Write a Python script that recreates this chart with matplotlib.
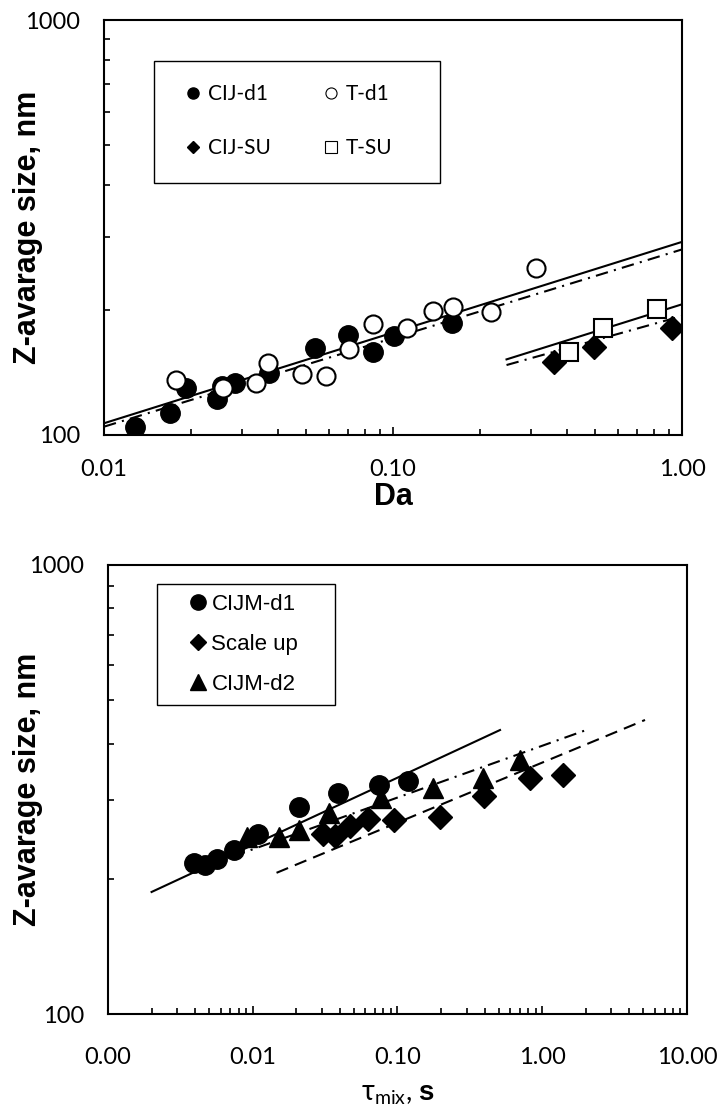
import numpy as np
import matplotlib
matplotlib.use('Agg')
import matplotlib.pyplot as plt
from matplotlib.lines import Line2D
from matplotlib.patches import Rectangle
from matplotlib.ticker import FixedLocator, NullFormatter, LogLocator

# Z-average size vs Damkohler number
cij_d1_da = [0.0128, 0.0169, 0.0192, 0.0247, 0.0256, 0.0284, 0.0373, 0.0537, 0.070, 0.0855, 0.1008, 0.160]
cij_d1_size = [104.7, 113, 129.6, 121.9, 131, 133.7, 140.8, 161.8, 174, 158.2, 173, 185.8]
t_d1_da = [0.0178, 0.0259, 0.0337, 0.0370, 0.0486, 0.0587, 0.0706, 0.0851, 0.1115, 0.137, 0.161, 0.218, 0.3125]
t_d1_size = [135.7, 129.6, 133.7, 148.9, 140.3, 138.8, 161.2, 184.8, 181.4, 199, 203.8, 198.3, 252]
cij_su_da = [0.361, 0.496, 0.921]
cij_su_size = [150.2, 163.3, 181.4]
t_su_da = [0.407, 0.534, 0.818]
t_su_size = [158.8, 181.4, 201]

# power-law fits (end points)
fit_d1_da = [0.01, 1.0]
fit_cij_d1 = [106.7, 292]
fit_t_d1 = [104.7, 280]
fit_su_da = [0.247, 1.0]
fit_t_su = [152.1, 206.5]
fit_cij_su = [147.4, 193.5]

# Z-average size vs mixing time
cijm_d1_tau = [0.00394, 0.00468, 0.00569, 0.00746, 0.0109, 0.0209, 0.039, 0.0749, 0.1188]
cijm_d1_size = [217.3, 214.7, 221, 231.8, 251.7, 289.6, 310, 323.6, 330.8]
scale_up_tau = [0.0304, 0.037, 0.047, 0.0622, 0.0946, 0.1966, 0.398, 0.823, 1.399]
scale_up_size = [251.7, 249, 262.8, 271.5, 270.4, 275, 305.9, 334.9, 340.7]
cijm_d2_tau = [0.00908, 0.0153, 0.021, 0.0338, 0.0766, 0.175, 0.388, 0.702]
cijm_d2_size = [248.2, 248.2, 257, 279.9, 302.3, 318.3, 334.9, 368]

fit_d1_tau = [0.002, 0.511]
fit_d1_tsize = [187, 429]
fit_d2_tau = [0.0073, 2.08]
fit_d2_tsize = [224.4, 430.6]
fit_su_tau = [0.0146, 5.13]
fit_su_tsize = [206.3, 451.7]

da_ticks = [0.01, 0.1, 1.0]
da_ticklabels = ['0.01', '0.10', '1.00']
tau_ticks = [0.001, 0.01, 0.1, 1.0, 10.0]
tau_ticklabels = ['0.00', '0.01', '0.10', '1.00', '10.00']
size_ticks = [100, 1000]
size_ticklabels = ['100', '1000']

tick_font = 'Lato'
label_font = 'Liberation Sans'
plt.rcParams['mathtext.fontset'] = 'custom'
plt.rcParams['mathtext.rm'] = 'Lato'
plt.rcParams['mathtext.it'] = 'Lato:italic'
plt.rcParams['mathtext.bf'] = 'Liberation Sans:bold'

dashdot = [6, 3, 1, 3]
dashed = [6, 3.5]


def style_axes(ax, xlim, xticks, xticklabels, xpad):
    ax.set_xscale('log')
    ax.set_yscale('log')
    ax.set_xlim(*xlim)
    ax.set_ylim(100, 1000)
    for sp in ax.spines.values():
        sp.set_linewidth(1.5)
    ax.xaxis.set_major_locator(FixedLocator(xticks))
    ax.set_xticklabels(xticklabels)
    ax.xaxis.set_minor_locator(LogLocator(base=10, subs=np.arange(2, 10)))
    ax.xaxis.set_minor_formatter(NullFormatter())
    ax.yaxis.set_major_locator(FixedLocator(size_ticks))
    ax.set_yticklabels(size_ticklabels)
    ax.yaxis.set_minor_locator(LogLocator(base=10, subs=np.arange(2, 10)))
    ax.yaxis.set_minor_formatter(NullFormatter())
    ax.tick_params(which='both', direction='in', top=False, right=False, width=1.2)
    ax.tick_params(which='major', length=6)
    ax.tick_params(which='minor', length=4.5)
    ax.tick_params(axis='x', which='major', pad=xpad)
    ax.tick_params(axis='y', which='major', pad=17)
    for lbl in ax.get_xticklabels() + ax.get_yticklabels():
        lbl.set_fontfamily(tick_font)
        lbl.set_fontsize(17)
    ax.set_ylabel('Z-avarage size, nm', fontsize=22, fontweight='bold', family=label_font)


def legend_box(ax, x0, y0, w, h):
    ax.add_patch(Rectangle((x0, y0), w, h, transform=ax.transAxes, facecolor='white',
                           edgecolor='black', lw=1.0, zorder=5))


fig = plt.figure(figsize=(7.21, 11.13), dpi=100)
ax1 = fig.add_axes([0.1442, 0.6092, 0.8018, 0.3728])
ax2 = fig.add_axes([0.1498, 0.0889, 0.8030, 0.4035])

# --- top panel ---
ax1.plot(fit_d1_da, fit_cij_d1, color='black', lw=1.5, zorder=2)
ax1.plot(fit_d1_da, fit_t_d1, color='black', lw=1.5, dashes=dashdot, zorder=2)
ax1.plot(fit_su_da, fit_t_su, color='black', lw=1.5, zorder=2)
ax1.plot(fit_su_da, fit_cij_su, color='black', lw=1.5, dashes=dashdot, zorder=2)
ax1.plot(cij_d1_da, cij_d1_size, 'o', ms=14, mfc='black', mec='black', zorder=3)
ax1.plot(t_d1_da, t_d1_size, 'o', ms=13, mfc='white', mec='black', mew=1.5, zorder=4)
ax1.plot(cij_su_da, cij_su_size, 'D', ms=12, mfc='black', mec='black', zorder=3)
ax1.plot(t_su_da, t_su_size, 's', ms=13, mfc='white', mec='black', mew=1.5, zorder=4)
style_axes(ax1, (0.01, 1.0), da_ticks, da_ticklabels, 17)
ax1.yaxis.set_label_coords(-0.105, 0.5)
ax1.set_xlabel('Da', fontsize=22, fontweight='bold', family=label_font, labelpad=2)

legend_box(ax1, 0.0865, 0.607, 0.4948, 0.294)
h_top = [
    Line2D([], [], ls='none', marker='o', ms=8, mfc='black', mec='black'),
    Line2D([], [], ls='none', marker='D', ms=6.5, mfc='black', mec='black'),
    Line2D([], [], ls='none', marker='o', ms=8, mfc='white', mec='black', mew=0.8),
    Line2D([], [], ls='none', marker='s', ms=8, mfc='white', mec='black', mew=0.8),
]
leg1 = ax1.legend(h_top, ['CIJ-d1', 'CIJ-SU', 'T-d1', 'T-SU'], ncol=2,
                  loc='upper left', bbox_to_anchor=(0.0865, 0.901), borderaxespad=0,
                  frameon=False, prop={'family': tick_font, 'size': 15},
                  handlelength=1.54, handletextpad=-0.05, labelspacing=1.65,
                  columnspacing=2.1, borderpad=1.1)
leg1.set_zorder(6)

# --- bottom panel ---
ax2.plot(fit_d1_tau, fit_d1_tsize, color='black', lw=1.5, zorder=2)
ax2.plot(fit_d2_tau, fit_d2_tsize, color='black', lw=1.5, dashes=dashdot, zorder=2)
ax2.plot(fit_su_tau, fit_su_tsize, color='black', lw=1.5, dashes=dashed, zorder=2)
ax2.plot(cijm_d1_tau, cijm_d1_size, 'o', ms=14, color='black', zorder=3)
ax2.plot(scale_up_tau, scale_up_size, 'D', ms=12, color='black', zorder=3)
ax2.plot(cijm_d2_tau, cijm_d2_size, '^', ms=14, color='black', zorder=3)
style_axes(ax2, (0.001, 10.0), tau_ticks, tau_ticklabels, 24)
ax2.yaxis.set_label_coords(-0.112, 0.5)
ax2.set_xlabel(r'$\mathrm{\tau}_{\mathrm{mix}}$, $\mathbf{s}$', fontsize=20, family=tick_font,
               labelpad=9)

legend_box(ax2, 0.0846, 0.688, 0.3074, 0.2695)
h_bot = [
    Line2D([], [], ls='none', marker='o', ms=11, color='black'),
    Line2D([], [], ls='none', marker='D', ms=8.5, color='black'),
    Line2D([], [], ls='none', marker='^', ms=11, color='black'),
]
leg2 = ax2.legend(h_bot, ['CIJM-d1', 'Scale up', 'CIJM-d2'],
                  loc='upper left', bbox_to_anchor=(0.0846, 0.9577), borderaxespad=0,
                  frameon=False, prop={'family': label_font, 'size': 16},
                  handlelength=2.8, handletextpad=-0.8, labelspacing=0.85, borderpad=0.45)
leg2.set_zorder(6)

fig.savefig('out.png', dpi=100)
